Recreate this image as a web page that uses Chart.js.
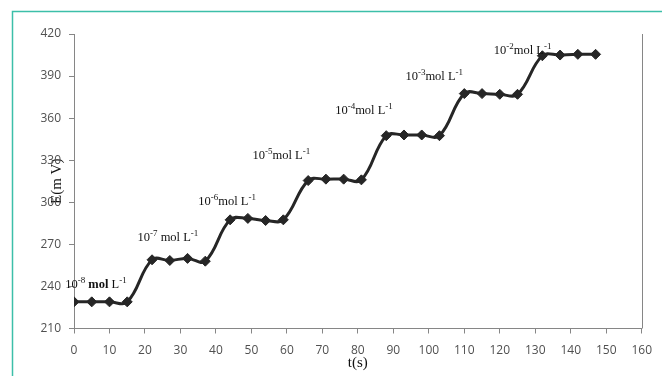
<!DOCTYPE html>
<html><head><meta charset="utf-8">
<script src="https://cdn.jsdelivr.net/npm/chart.js@4"></script>
<style>html,body{margin:0;padding:0;background:#fff;}#wrap{width:662px;height:376px;position:relative;}</style>
</head><body><div id="wrap"><canvas id="c" width="662" height="376"></canvas></div>
<script>
// ---- data ----
const times = [0,5,10,15, 22,27,32,37, 44,49,54,59, 66,71,76,81, 88,93,98,103, 110,115,120,125, 132,137,142,147];
const potentials = [229,229,229,229, 259,258.5,260,258, 287.5,288.5,287,287.5, 315.5,316.5,316.5,316, 347.5,348,348,347.5, 377.5,377.5,377,377, 404.5,405,405.5,405.5];
const xTickRange = [0, 160, 10];
const yTickRange = [210, 420, 30];
const concBase = ['10','10','10','10','10','10','10'];
const concExponents = ['-8','-7','-6','-5','-4','-3','-2'];
const concUnits = [' mol',' mol','mol','mol','mol','mol','mol'];
const concUnitL = [' L',' L',' L',' L',' L',' L',' L'];
const concUnitExp = ['-1','-1','-1','-1','-1','-1','-1'];
const xTitle = 't(s)';
const yTitle = 'E(m V)';

// label anchors in data units (t, E)
const labelAnchors = [[-2.5,241],[17.9,274.6],[35,300.3],[50.3,333.1],[73.6,365.2],[93.4,389.5],[118.3,408.3]];

const AXIS = '#868686';
const TICKC = '#505050';
const SERIF = '"Liberation Serif", "Times New Roman", serif';
const SANS = '"Open Sans", "Liberation Sans", sans-serif';

const framePlugin = {
  id: 'frame',
  beforeDraw(chart) {
    const ctx = chart.ctx;
    ctx.save();
    ctx.fillStyle = '#fff';
    ctx.fillRect(0, 0, chart.width, chart.height);
    ctx.strokeStyle = '#3cbfa9';
    ctx.lineWidth = 1.5;
    ctx.strokeRect(12.5, 11.5, chart.width + 20, chart.height + 20);
    ctx.restore();
  },
  afterDraw(chart) {
    const ctx = chart.ctx, a = chart.chartArea;
    ctx.save();
    ctx.strokeStyle = AXIS;
    ctx.lineWidth = 1;
    const x = Math.round(a.right) + 0.5;
    ctx.beginPath();
    ctx.moveTo(x, a.top);
    ctx.lineTo(x, a.bottom);
    ctx.stroke();
    ctx.restore();
  }
};

const labelPlugin = {
  id: 'concLabels',
  afterDatasetsDraw(chart) {
    const ctx = chart.ctx, xs = chart.scales.x, ys = chart.scales.y;
    ctx.save();
    ctx.fillStyle = '#111';
    ctx.textBaseline = 'middle';
    ctx.textAlign = 'left';
    for (let i = 0; i < concExponents.length; i++) {
      let x = xs.getPixelForValue(labelAnchors[i][0]);
      const y = ys.getPixelForValue(labelAnchors[i][1]);
      const parts = [
        [concBase[i], false, false],
        [concExponents[i], true, false],
        [concUnits[i], false, i === 0],
        [concUnitL[i], false, false],
        [concUnitExp[i], true, false]
      ];
      for (const [t, sup, bold] of parts) {
        ctx.font = (bold ? 'bold ' : '') + (sup ? '9px ' : '12.5px ') + SERIF;
        ctx.fillText(t, x, sup ? y - 4 : y);
        x += ctx.measureText(t).width;
      }
    }
    ctx.restore();
  }
};

new Chart(document.getElementById('c'), {
  type: 'line',
  data: {
    datasets: [{
      data: times.map((t, i) => ({x: t, y: potentials[i]})),
      borderColor: '#262626',
      backgroundColor: '#262626',
      borderWidth: 3,
      tension: 0.4,
      pointStyle: 'rectRot',
      pointRadius: 5,
      pointBorderWidth: 1,
      pointBorderColor: '#262626',
      pointBackgroundColor: '#262626',
      fill: false
    }]
  },
  options: {
    responsive: false,
    devicePixelRatio: 1,
    animation: false,
    layout: {padding: {left: 0, right: 16, top: 34, bottom: 0}},
    plugins: {legend: {display: false}, tooltip: {enabled: false}},
    scales: {
      x: {
        type: 'linear',
        min: xTickRange[0], max: xTickRange[1],
        ticks: {stepSize: xTickRange[2], color: TICKC, font: {family: SANS, size: 12}, padding: 10, maxRotation: 0},
        grid: {display: true, drawOnChartArea: false, drawTicks: true, tickLength: 5, color: AXIS},
        border: {display: true, color: AXIS},
        title: {display: true, text: xTitle, color: '#111', font: {family: SERIF, size: 15}, padding: {top: 0, bottom: 4}},
        afterFit(s) { s.height = 47.5; }
      },
      y: {
        min: yTickRange[0], max: yTickRange[1],
        ticks: {stepSize: yTickRange[2], color: TICKC, font: {family: SANS, size: 12}, padding: 8},
        grid: {display: true, drawOnChartArea: false, drawTicks: true, tickLength: 5, color: AXIS},
        border: {display: true, color: AXIS},
        title: {display: true, text: yTitle, color: '#111', font: {family: SERIF, size: 15}, padding: {top: 48, bottom: 0}},
        afterFit(s) { s.width = 74; }
      }
    }
  },
  plugins: [framePlugin, labelPlugin]
});
</script>
</body></html>
